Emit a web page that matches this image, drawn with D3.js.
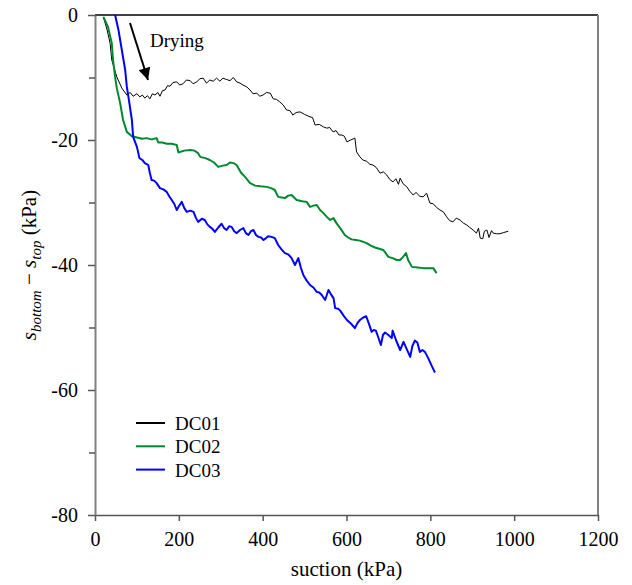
<!DOCTYPE html>
<html>
<head>
<meta charset="utf-8">
<script src="https://cdn.jsdelivr.net/npm/d3@7"></script>
<style>
  body { margin: 0; background: #fff; }
  svg text { font-family: "Liberation Serif", "Times New Roman", Times, serif; fill: #000; }
</style>
</head>
<body>
<div id="chart"></div>
<script>
// Data: [suction (kPa), s_bottom - s_top (kPa)]
var dc01 = [[20,-0.3],[29,-2.4],[36,-4.5],[40,-7.2],[52,-9.9],[64,-11.7],[76,-12.8],[84,-12.4],[91,-13.0],
  [100,-12.6],[107,-13.1],[113,-12.8],[119,-13.3],[125,-12.9],[131,-13.4],[137,-12.6],[143,-12.8],[150,-12.4],
  [155,-13.0],[161,-12.1],[167,-12.0],[173,-11.3],[179,-11.4],[186,-10.8],[195,-10.7],[202,-11.2],[210,-11.0],
  [218,-10.4],[227,-10.5],[234,-11.0],[243,-10.7],[250,-10.2],[258,-10.1],[266,-10.9],[274,-10.4],[282,-10.6],
  [290,-10.1],[298,-10.6],[305,-10.1],[313,-10.3],[322,-10.5],[330,-10.0],[338,-10.7],[346,-10.9],[353,-11.2],
  [362,-11.5],[370,-12.0],[377,-12.6],[386,-12.5],[393,-13.0],[401,-12.8],[409,-12.4],[418,-12.5],[425,-13.4],
  [433,-13.5],[441,-13.9],[449,-14.4],[457,-15.2],[465,-15.3],[472,-16.0],[480,-15.6],[489,-15.5],[500,-15.9],
  [513,-16.3],[519,-16.4],[525,-17.6],[535,-17.5],[545,-17.9],[553,-18.1],[560,-18.0],[568,-18.7],[575,-18.5],
  [582,-19.2],[589,-19.2],[595,-19.4],[601,-20.3],[610,-20.0],[620,-19.7],[624,-21.9],[632,-22.7],[639,-23.2],
  [648,-23.4],[656,-23.9],[663,-24.0],[671,-24.4],[680,-25.3],[688,-25.1],[696,-25.6],[703,-26.3],[711,-26.7],
  [718,-26.2],[724,-27.1],[728,-26.1],[735,-27.0],[744,-27.5],[751,-28.2],[759,-28.8],[766,-28.4],[775,-29.0],
  [783,-29.1],[791,-28.5],[799,-30.1],[807,-30.2],[815,-30.8],[823,-31.2],[831,-31.5],[839,-32.3],[846,-32.9],
  [854,-33.1],[862,-32.5],[871,-32.8],[879,-33.3],[887,-33.6],[894,-34.0],[902,-34.4],[910,-34.9],[915,-34.1],
  [919,-35.7],[925,-35.8],[929,-34.6],[935,-34.4],[940,-35.6],[946,-34.5],[950,-34.9],[958,-35.0],[966,-35.0],
  [975,-34.8],[986,-34.6]];

var dc02 = [[20,-0.3],[31,-1.9],[40,-4.5],[43,-7.2],[48,-9.9],[52,-11.7],[60,-14.1],[67,-16.8],[76,-18.7],
  [88,-19.4],[100,-19.6],[112,-19.8],[123,-19.7],[135,-19.9],[147,-19.7],[151,-20.4],[161,-20.4],[171,-20.6],
  [183,-20.6],[195,-20.8],[199,-22.0],[213,-21.7],[227,-21.6],[237,-21.7],[246,-22.1],[251,-22.7],[263,-22.9],
  [274,-23.2],[284,-23.6],[294,-24.3],[305,-24.1],[314,-24.0],[322,-23.6],[330,-23.7],[338,-24.0],[348,-25.2],
  [358,-25.9],[370,-26.9],[382,-27.3],[394,-27.4],[410,-27.5],[420,-27.7],[429,-28.0],[437,-29.1],[446,-29.2],
  [453,-29.3],[461,-28.9],[469,-28.8],[481,-29.6],[494,-29.8],[505,-29.9],[513,-30.7],[521,-30.5],[529,-30.4],
  [537,-31.2],[545,-31.7],[553,-32.3],[561,-32.8],[569,-32.5],[576,-33.3],[585,-34.1],[596,-35.2],[604,-35.6],
  [612,-35.9],[622,-36.0],[632,-36.1],[648,-36.5],[658,-36.9],[668,-37.2],[678,-37.4],[688,-37.6],[700,-38.7],
  [710,-38.9],[720,-39.2],[728,-39.2],[735,-38.7],[742,-38.1],[747,-39.2],[756,-40.3],[770,-40.4],[783,-40.5],
  [795,-40.5],[807,-40.5],[815,-41.3]];

var dc03 = [[48,0],[56,-2.4],[64,-5.6],[72,-8.8],[76,-11.5],[82,-14.1],[88,-16.8],[91,-19.5],[100,-21.1],
  [106,-22.9],[113,-23.2],[119,-23.7],[127,-24.0],[131,-25.3],[135,-26.4],[141,-26.5],[147,-26.9],[155,-27.7],
  [163,-27.9],[171,-28.3],[177,-29.0],[183,-29.6],[189,-30.2],[195,-31.2],[200,-30.6],[207,-29.9],[213,-30.9],
  [219,-31.5],[227,-31.3],[235,-31.5],[241,-32.5],[246,-33.1],[255,-32.6],[262,-32.8],[268,-33.5],[274,-33.9],
  [280,-34.2],[286,-34.7],[294,-34.0],[302,-33.4],[308,-34.1],[314,-34.4],[320,-33.8],[326,-33.9],[332,-34.6],
  [338,-34.9],[346,-34.4],[354,-34.1],[360,-34.9],[366,-35.2],[372,-34.6],[378,-34.4],[384,-35.2],[390,-35.5],
  [396,-35.6],[402,-36.0],[408,-35.7],[413,-35.4],[421,-35.5],[429,-35.7],[437,-36.8],[445,-37.5],[453,-38.1],
  [461,-38.3],[469,-38.9],[477,-40.0],[485,-38.9],[491,-40.4],[497,-41.6],[505,-42.5],[513,-43.2],[521,-43.6],
  [529,-44.3],[535,-44.4],[541,-44.8],[549,-45.6],[557,-44.0],[563,-44.7],[569,-45.3],[573,-46.9],[580,-47.0],
  [585,-47.3],[593,-48.1],[601,-48.8],[611,-49.4],[620,-50.1],[626,-49.3],[632,-48.8],[640,-48.4],[647,-48.2],
  [654,-49.5],[660,-50.7],[665,-50.4],[670,-50.5],[676,-51.6],[682,-52.8],[687,-51.2],[692,-50.8],[700,-51.2],
  [708,-51.7],[710,-50.5],[718,-52.0],[728,-53.6],[736,-52.3],[744,-53.5],[752,-54.7],[757,-53.0],[763,-52.1],
  [769,-52.4],[775,-53.9],[781,-53.6],[787,-53.9],[795,-54.9],[803,-56.1],[811,-57.2]];

var seriesNames = ["DC01", "DC02", "DC03"];
var seriesColors = ["#000000", "#00882f", "#0000ff"];
var seriesWidths = [1, 2, 2];
var xTicks = [0, 200, 400, 600, 800, 1000, 1200];
var yTicks = [0, -20, -40, -60, -80];
var yMinorTicks = [-10, -30, -50, -70];

var serif = "'Liberation Serif', 'Times New Roman', Times, serif";

var margin = { top: 15, right: 34, bottom: 70, left: 95 },
    width = 632 - margin.left - margin.right,
    height = 585 - margin.top - margin.bottom;

var svg = d3.select("#chart")
    .append("svg")
    .attr("width", 632)
    .attr("height", 585)
    .attr("font-family", serif)
    .append("g")
    .attr("transform", "translate(" + margin.left + "," + margin.top + ")");

var x = d3.scaleLinear().domain([0, 1200]).range([0, width]);
var y = d3.scaleLinear().domain([-80, 0]).range([height, 0]);

// plain numbers with an ascii hyphen for negatives
var fmt = function (d) { return String(d); };

// frame: top black, right grey
svg.append("line")
    .attr("x1", 0).attr("x2", width).attr("y1", 0).attr("y2", 0)
    .style("stroke", "#000").style("stroke-width", 1.5);
svg.append("line")
    .attr("x1", width).attr("x2", width).attr("y1", 0).attr("y2", height)
    .style("stroke", "#808080").style("stroke-width", 2);

// X axis
var xAxis = svg.append("g")
    .attr("transform", "translate(0," + height + ")")
    .call(d3.axisBottom(x).tickValues(xTicks).tickFormat(fmt).tickSize(6).tickPadding(11).tickSizeOuter(0));
xAxis.attr("font-family", serif);
xAxis.select(".domain").style("stroke", "#555").style("stroke-width", 1.5);
xAxis.selectAll(".tick line").style("stroke", "#555").style("stroke-width", 1.5);
xAxis.selectAll("text").style("font-size", "20px").style("font-family", serif);

// Y axis
var yAxis = svg.append("g")
    .call(d3.axisLeft(y).tickValues(yTicks).tickFormat(fmt).tickSize(7).tickPadding(10).tickSizeOuter(0));
yAxis.attr("font-family", serif);
yAxis.select(".domain").style("stroke", "#808080").style("stroke-width", 2);
yAxis.selectAll(".tick line").style("stroke", "#555").style("stroke-width", 1.5);
yAxis.selectAll("text").style("font-size", "20px").style("font-family", serif);

svg.append("g")
    .call(d3.axisLeft(y).tickValues(yMinorTicks).tickSize(6).tickFormat(""))
    .call(function (g) { g.select(".domain").remove(); })
    .selectAll(".tick line").style("stroke", "#555").style("stroke-width", 1.5);

// Curves
var line = d3.line()
    .x(function (d) { return x(d[0]); })
    .y(function (d) { return y(d[1]); });

[dc01, dc02, dc03].forEach(function (data, i) {
    svg.append("path")
        .datum(data)
        .attr("d", line)
        .style("fill", "none")
        .style("stroke", seriesColors[i])
        .style("stroke-width", seriesWidths[i])
        .style("stroke-linejoin", "round");
});

// Legend
var legend = svg.append("g").attr("transform", "translate(41,408)");
seriesNames.forEach(function (name, i) {
    legend.append("line")
        .attr("x1", 0).attr("x2", 29)
        .attr("y1", i * 23.3).attr("y2", i * 23.3)
        .style("stroke", seriesColors[i])
        .style("stroke-width", 2);
    legend.append("text")
        .attr("x", 39)
        .attr("y", i * 23.3 + 7)
        .style("font-size", "19px")
        .style("font-family", serif)
        .text(name);
});

// Drying arrow
var defs = svg.append("defs");
defs.append("marker")
    .attr("id", "arrowhead")
    .attr("viewBox", "0 0 10 10")
    .attr("refX", 10).attr("refY", 5)
    .attr("markerWidth", 14).attr("markerHeight", 12)
    .attr("markerUnits", "userSpaceOnUse")
    .attr("orient", "auto")
    .append("path")
    .attr("d", "M0,0 L10,5 L0,10 Z")
    .style("fill", "#000");

svg.append("line")
    .attr("x1", 35).attr("y1", 8)
    .attr("x2", 53).attr("y2", 65)
    .style("stroke", "#000")
    .style("stroke-width", 2)
    .attr("marker-end", "url(#arrowhead)");

svg.append("text")
    .attr("x", 55)
    .attr("y", 32)
    .style("font-size", "19px")
    .style("font-family", serif)
    .text("Drying");

// Axis titles
svg.append("text")
    .attr("x", width / 2)
    .attr("y", height + 61)
    .attr("text-anchor", "middle")
    .style("font-size", "21px")
    .style("font-family", serif)
    .text("suction (kPa)");

var yTitle = svg.append("text")
    .attr("transform", "translate(-59," + (height / 2) + ") rotate(-90)")
    .attr("text-anchor", "middle")
    .style("font-size", "21px")
    .style("font-family", serif);
yTitle.append("tspan").style("font-style", "italic").text("s");
yTitle.append("tspan").style("font-style", "italic").style("font-size", "15px")
    .attr("dy", 5).text("bottom");
yTitle.append("tspan").attr("dy", -5).text(" \u2212 ");
yTitle.append("tspan").style("font-style", "italic").text("s");
yTitle.append("tspan").style("font-style", "italic").style("font-size", "15px")
    .attr("dy", 5).text("top");
yTitle.append("tspan").attr("dy", -5).text(" (kPa)");
</script>
</body>
</html>
